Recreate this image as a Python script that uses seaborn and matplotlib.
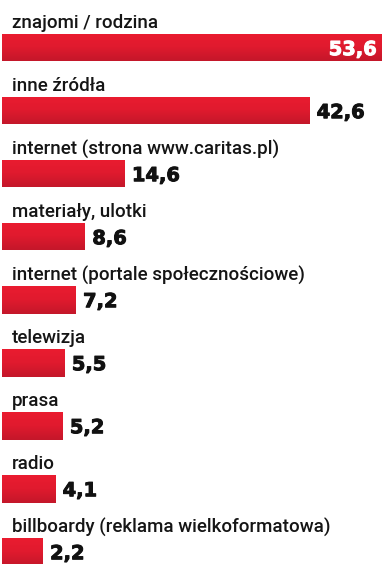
import numpy as np
import pandas as pd
import matplotlib
matplotlib.use("Agg")
import matplotlib.pyplot as plt
import matplotlib.transforms as mtransforms
import matplotlib.patheffects as pe
from matplotlib.colors import LinearSegmentedColormap
import seaborn as sns

# ---- data ----
categories = [
    "znajomi / rodzina",
    "inne źródła",
    "internet (strona www.caritas.pl)",
    "materiały, ulotki",
    "internet (portale społecznościowe)",
    "telewizja",
    "prasa",
    "radio",
    "billboardy (reklama wielkoformatowa)",
]
values = [53.6, 42.6, 14.6, 8.6, 7.2, 5.5, 5.2, 4.1, 2.2]
value_labels = [f"{v:.1f}".replace(".", ",") for v in values]

# ---- style ----
BAR_COLOR = "#e01a2e"
BAR_BASE = -3.94          # bars start slightly left of zero, as in the original design
LABEL_FONT = ["Roboto", "DejaVu Sans"]
VALUE_FONT = ["DejaVu Sans"]

sns.set_theme(style="white")
plt.rcParams["font.family"] = LABEL_FONT

df = pd.DataFrame({"category": categories, "value": values})
df["extent"] = df["value"] - BAR_BASE

fig = plt.figure(figsize=(3.83, 5.64), dpi=100)
ax = fig.add_axes([0, 0, 1, 1])

sns.barplot(data=df, x="extent", y="category", orient="h", color=BAR_COLOR,
            saturation=1, width=0.43, left=BAR_BASE, linewidth=0, ax=ax)

# subtle vertical gradient on each bar, clipped to the bar shape
grad_cmap = LinearSegmentedColormap.from_list("bar", ["#ea1c30", "#e01a2e", "#c4172a"])
grad = np.linspace(0, 1, 64).reshape(-1, 1)
for p in list(ax.patches):
    x0, y0 = p.get_x(), p.get_y()
    w, h = p.get_width(), p.get_height()
    im = ax.imshow(grad, cmap=grad_cmap, aspect="auto", interpolation="bicubic",
                   extent=(x0, x0 + w, y0 + h, y0), origin="upper", zorder=p.get_zorder())
    im.set_clip_path(p)

ax.set_xlim(-4.24, 53.8)
ax.set_ylim(8.19, -0.76)
ax.set_axis_off()

blend = mtransforms.blended_transform_factory(ax.transAxes, ax.transData)
heavy = [pe.withStroke(linewidth=0.7, foreground="#111111")]
heavy_w = [pe.withStroke(linewidth=0.7, foreground="white")]

for i, (cat, v, lab) in enumerate(zip(categories, values, value_labels)):
    ax.text(0.031, i - 0.31, cat, transform=blend, ha="left", va="baseline",
            fontsize=13.5, fontweight="medium", color="#151515", family=LABEL_FONT)
    if i == 0:
        ax.text(0.984, i + 0.115, lab, transform=blend, ha="right", va="baseline",
                fontsize=14, fontweight="bold", color="white", family=VALUE_FONT,
                path_effects=heavy_w, zorder=5)
    else:
        ax.text(v + 1.15, i + 0.115, lab, ha="left", va="baseline",
                fontsize=14, fontweight="bold", color="#111111", family=VALUE_FONT,
                path_effects=heavy, zorder=5)

fig.savefig("out.png", dpi=100, facecolor="white")
